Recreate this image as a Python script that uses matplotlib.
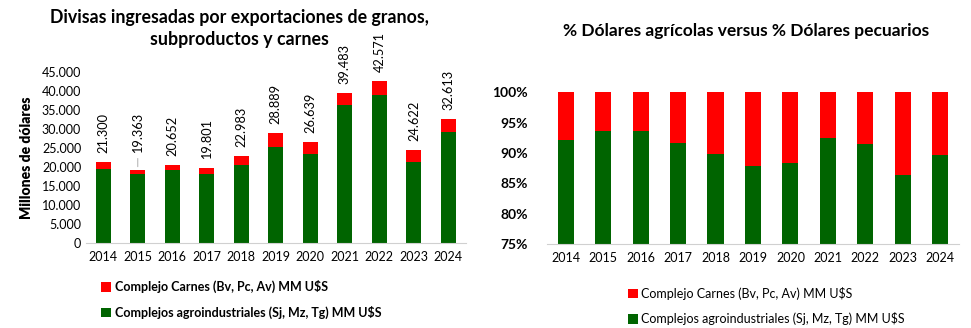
import matplotlib
matplotlib.use("Agg")
import matplotlib.pyplot as plt
import numpy as np

plt.rcParams['font.family'] = ['Lato', 'DejaVu Sans']

# datos (millones de dolares)
anios = ['2014', '2015', '2016', '2017', '2018', '2019', '2020', '2021', '2022', '2023', '2024']
agro = [19617, 18124, 19330, 18158, 20662, 25393, 23549, 36482, 38910, 21273, 29254]
carnes = [1683, 1239, 1322, 1643, 2321, 3496, 3090, 3001, 3661, 3349, 3359]

lbl_carnes = 'Complejo Carnes (Bv, Pc, Av) MM U$S'
lbl_agro = 'Complejos agroindustriales (Sj, Mz, Tg) MM U$S'

verde = '#006400'
rojo = '#ff0000'

agro = np.array(agro)
carnes = np.array(carnes)
total = agro + carnes
x = np.arange(len(anios))

fig = plt.figure(figsize=(9.71, 3.28), dpi=100)

# ---- grafico izquierdo: valores absolutos
ax1 = fig.add_axes([0.0886, 0.259, 0.391, 0.521])
b1 = ax1.bar(x, agro, width=0.43, color=verde, label=lbl_agro)
b2 = ax1.bar(x, carnes, width=0.43, bottom=agro, color=rojo, label=lbl_carnes)
ax1.set_xlim(-0.5, 10.5)
ax1.set_ylim(0, 45000)
ax1.set_yticks(np.arange(0, 45001, 5000))
ax1.set_yticklabels([f"{v:,}".replace(",", ".") for v in range(0, 45001, 5000)])
ax1.set_xticks(x)
ax1.set_xticklabels(anios)
for s in ['top', 'right', 'left']:
    ax1.spines[s].set_visible(False)
ax1.spines['bottom'].set_color('#d0d0d0')
ax1.tick_params(axis='both', length=0, labelsize=9, colors='black')
ax1.tick_params(axis='x', pad=6)
ax1.set_ylabel('Millones de dólares', fontsize=10, fontweight='heavy', labelpad=6)

for i, t in enumerate(total):
    txt = f"{t:,}".replace(",", ".")
    if i == 1:
        ax1.annotate(txt, (x[i], t), xytext=(0, 12), textcoords='offset points',
                     rotation=90, ha='center', va='bottom', fontsize=9.2,
                     arrowprops=dict(arrowstyle='-', color='#a0a0a0', lw=0.6))
    else:
        ax1.annotate(txt, (x[i], t), xytext=(0, 6.5), textcoords='offset points',
                     rotation=90, ha='center', va='bottom', fontsize=9.2)

# titulo en dos lineas separadas
fig.text(0.247, 0.948, 'Divisas ingresadas por exportaciones de granos,',
         ha='center', va='center', fontsize=12.8, fontweight='bold')
fig.text(0.247, 0.880, 'subproductos y carnes',
         ha='center', va='center', fontsize=12.8, fontweight='bold')

fig.legend(handles=[b2, b1], labels=[lbl_carnes, lbl_agro], loc='upper left',
           bbox_to_anchor=(0.098, 0.165), frameon=False, handlelength=0.8, handleheight=0.8,
           handletextpad=0.3, labelspacing=1.0, borderpad=0,
           prop={'size': 9, 'weight': 'bold'})

# ---- grafico derecho: participacion porcentual
p_agro = agro / total
p_carnes = carnes / total
ax2 = fig.add_axes([0.5633, 0.256, 0.4243, 0.463])
c1 = ax2.bar(x, p_agro, width=0.43, color=verde, label=lbl_agro)
c2 = ax2.bar(x, p_carnes, width=0.43, bottom=p_agro, color=rojo, label=lbl_carnes)
ax2.set_xlim(-0.5, 10.5)
ax2.set_ylim(0.75, 1.0)
ax2.set_yticks(np.arange(0.75, 1.001, 0.05))
ax2.set_yticklabels([f"{int(round(v * 100))}%" for v in np.arange(0.75, 1.001, 0.05)],
                    fontweight='bold')
ax2.set_xticks(x)
ax2.set_xticklabels(anios)
for s in ['top', 'right', 'left']:
    ax2.spines[s].set_visible(False)
ax2.spines['bottom'].set_color('#d0d0d0')
ax2.tick_params(axis='both', length=0, labelsize=9, colors='black')
ax2.tick_params(axis='y', labelsize=10, pad=14)
ax2.tick_params(axis='x', pad=6)

fig.text(0.768, 0.905, '% Dólares agrícolas versus % Dólares pecuarios',
         ha='center', va='center', fontsize=12.5, fontweight='bold')

fig.legend(handles=[c2, c1], labels=[lbl_carnes, lbl_agro], loc='upper left',
           bbox_to_anchor=(0.64, 0.145), frameon=False, handlelength=0.8, handleheight=0.8,
           handletextpad=0.3, labelspacing=1.0, borderpad=0,
           prop={'size': 9})

fig.savefig('out.png', dpi=100)
